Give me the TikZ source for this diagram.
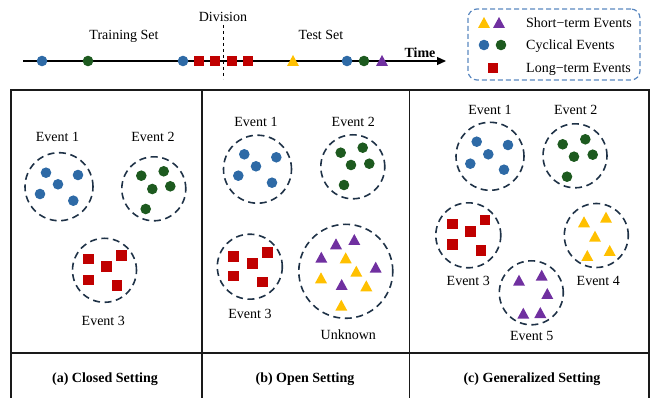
\documentclass[tikz,border=0pt]{standalone}
\usepackage{fontspec}
\setmainfont{Liberation Serif}
\usetikzlibrary{arrows.meta}
\definecolor{cblue}{HTML}{2E6AA6}
\definecolor{cgreen}{HTML}{1D5A1F}
\definecolor{cred}{HTML}{C00000}
\definecolor{cyellow}{HTML}{FFC000}
\definecolor{cpurple}{HTML}{7030A0}
\definecolor{cring}{HTML}{1F3247}
\definecolor{cleg}{HTML}{5A88C0}
\definecolor{cframe}{HTML}{1A1A1A}

\begin{document}
\begin{tikzpicture}[x=1pt,y=-1pt,
  lbl/.style={font=\fontsize{14}{16}\selectfont, inner sep=0pt, text height=9.3pt, text depth=0pt},
  boldlbl/.style={lbl, font=\fontsize{14}{16}\selectfont\bfseries},
  clusterring/.style={circle, draw=cring, line width=1.6pt, dash pattern=on 7pt off 4.6pt, minimum size=#1, inner sep=0pt},
  tblline/.style={draw=cframe, line width=1.3pt},
  evdot/.pic={\fill (0pt,0pt) circle (5.3pt);},
  evsq/.pic={\fill (-5.4,-5.4) rectangle (5.4,5.4);},
  evtri/.pic={\fill (-6,5) -- (6,5) -- (0,-6) -- cycle;}
]
\useasboundingbox (0,0) rectangle (651,398);

% ---------- time line ----------
\coordinate (tl0) at (23,61);
\coordinate (tl1) at (446,61);
\draw[line width=1.2pt, -{Triangle[length=9pt,width=8pt]}] (tl0) -- (tl1);
\coordinate (dv0) at (223,25);
\coordinate (dv1) at (223,79);
\draw[line width=1pt, dash pattern=on 3.5pt off 2.5pt] (dv0) -- (dv1);

\node[lbl] (train) at (124,35) {Training Set};
\node[lbl] (division) at (223,17) {Division};
\node[lbl] (test) at (321,35) {Test Set};
\node[boldlbl] (time) at (420,53) {Time};

\pic[fill=cblue]  at (42,61)  {evdot};
\pic[fill=cgreen] at (88,61)  {evdot};
\pic[fill=cblue]  at (183,61) {evdot};
\foreach \x in {199,215,232,248} \pic[fill=cred] at (\x,61) {evsq};
\pic[fill=cyellow] at (293,61) {evtri};
\pic[fill=cblue]  at (347,61) {evdot};
\pic[fill=cgreen] at (364,61) {evdot};
\pic[fill=cpurple] at (382,61) {evtri};

% ---------- legend ----------
\node[draw=cleg, line width=1.2pt, dash pattern=on 5pt off 3pt, rounded corners=9pt,
      minimum width=172pt, minimum height=71pt] (legend) at (554,44.5) {};
\pic[fill=cyellow] at (484,23) {evtri};
\pic[fill=cpurple] at (499,23) {evtri};
\pic[fill=cblue]  at (484,45) {evdot};
\pic[fill=cgreen] at (501,45) {evdot};
\pic[fill=cred]   at (493,68) {evsq};
\node[lbl, anchor=west] (lg1) at (526,23) {Short−term Events};
\node[lbl, anchor=west] (lg2) at (526,45) {Cyclical Events};
\node[lbl, anchor=west] (lg3) at (526,68) {Long−term Events};

% ---------- table ----------
\draw[tblline] (11,90) rectangle (649,402);
\draw[tblline] (202,90) -- (202,402);
\draw[tblline] (409.5,90) -- (409.5,402);
\draw[tblline] (11,353) -- (649,353);

\node[boldlbl] (capa) at (105,378) {(a) Closed Setting};
\node[boldlbl] (capb) at (305,378) {(b) Open Setting};
\node[boldlbl] (capc) at (532,378) {(c) Generalized Setting};

% ---------- (a) closed setting ----------
\node[lbl] (a1l) at (57.5,136.7) {Event 1};
\node[clusterring=68pt] (a1) at (59,186.7) {};
\foreach \x/\y in {46/172.7,78/175,58/184.3,40/194,73.3/200.7} \pic[fill=cblue] at (\x,\y) {evdot};
\node[lbl] (a2l) at (153,136.7) {Event 2};
\node[clusterring=64pt] (a2) at (153.8,188.8) {};
\foreach \x/\y in {141.3/175.7,163.7/171.3,152.3/189,170.3/186.3,145.7/209} \pic[fill=cgreen] at (\x,\y) {evdot};
\node[clusterring=64pt] (a3) at (104.5,270.3) {};
\foreach \x/\y in {88.3/259,121.7/255.3,106.7/266.7,88.3/280,117/285.7} \pic[fill=cred] at (\x,\y) {evsq};
\node[lbl] (a3l) at (103.3,320.7) {Event 3};

% ---------- (b) open setting ----------
\node[lbl] (b1l) at (256,121.7) {Event 1};
\node[clusterring=68pt] (b1) at (257.5,169.2) {};
\foreach \x/\y in {244.3/154.3,276.3/157.3,256/166.3,238.3/175.7,272/182.7} \pic[fill=cblue] at (\x,\y) {evdot};
\node[lbl] (b2l) at (353.3,121.7) {Event 2};
\node[clusterring=64pt] (b2) at (352.8,166.8) {};
\foreach \x/\y in {340.7/152.7,362.7/147.7,351/165,369.3/163.7,344/185} \pic[fill=cgreen] at (\x,\y) {evdot};
\node[clusterring=65pt] (b3) at (249.8,266.7) {};
\foreach \x/\y in {233.7/256.3,267.7/252.3,252.3/263.7,233.7/276,262.7/282} \pic[fill=cred] at (\x,\y) {evsq};
\node[lbl] (b3l) at (250,314.3) {Event 3};
\node[clusterring=94pt] (bu) at (345.8,271.3) {};
\foreach \x/\y in {336/244.3,354.3/240,321.3/257.7,375.7/267.7,341.7/285} \pic[fill=cpurple] at (\x,\y) {evtri};
\foreach \x/\y in {345.7/258.3,356.3/271.7,321/278.3,366.3/286.3,341.3/305.7} \pic[fill=cyellow] at (\x,\y) {evtri};
\node[lbl] (bul) at (348.3,335) {Unknown};

% ---------- (c) generalized setting ----------
\node[lbl] (c1l) at (490,110) {Event 1};
\node[clusterring=68pt] (c1) at (490,156.3) {};
\foreach \x/\y in {476.7/141.7,508/145,488.3/154.3,470.3/163.7,504/169.7} \pic[fill=cblue] at (\x,\y) {evdot};
\node[lbl] (c2l) at (575.7,110) {Event 2};
\node[clusterring=64pt] (c2) at (575,155.8) {};
\foreach \x/\y in {562.7/144.3,585.3/139.3,574/156.7,592.7/154.7,567/176.7} \pic[fill=cgreen] at (\x,\y) {evdot};
\node[clusterring=65pt] (c3) at (468.3,235.3) {};
\foreach \x/\y in {452.3/224,485/220,470.3/231.7,452.3/244.3,481/250.3} \pic[fill=cred] at (\x,\y) {evsq};
\node[lbl] (c3l) at (468.3,281) {Event 3};
\node[clusterring=64pt] (c4) at (596.3,235.5) {};
\foreach \x/\y in {584/222.3,606/217.7,595/236.7,587.3/256,609.7/251} \pic[fill=cyellow] at (\x,\y) {evtri};
\node[lbl] (c4l) at (598.3,281) {Event 4};
\node[clusterring=64pt] (c5) at (531.3,292.8) {};
\foreach \x/\y in {519/280.7,541.7/275.7,547.3/294,523.3/313.7,540.3/313} \pic[fill=cpurple] at (\x,\y) {evtri};
\node[lbl] (c5l) at (531.7,335.7) {Event 5};
\end{tikzpicture}
\end{document}
